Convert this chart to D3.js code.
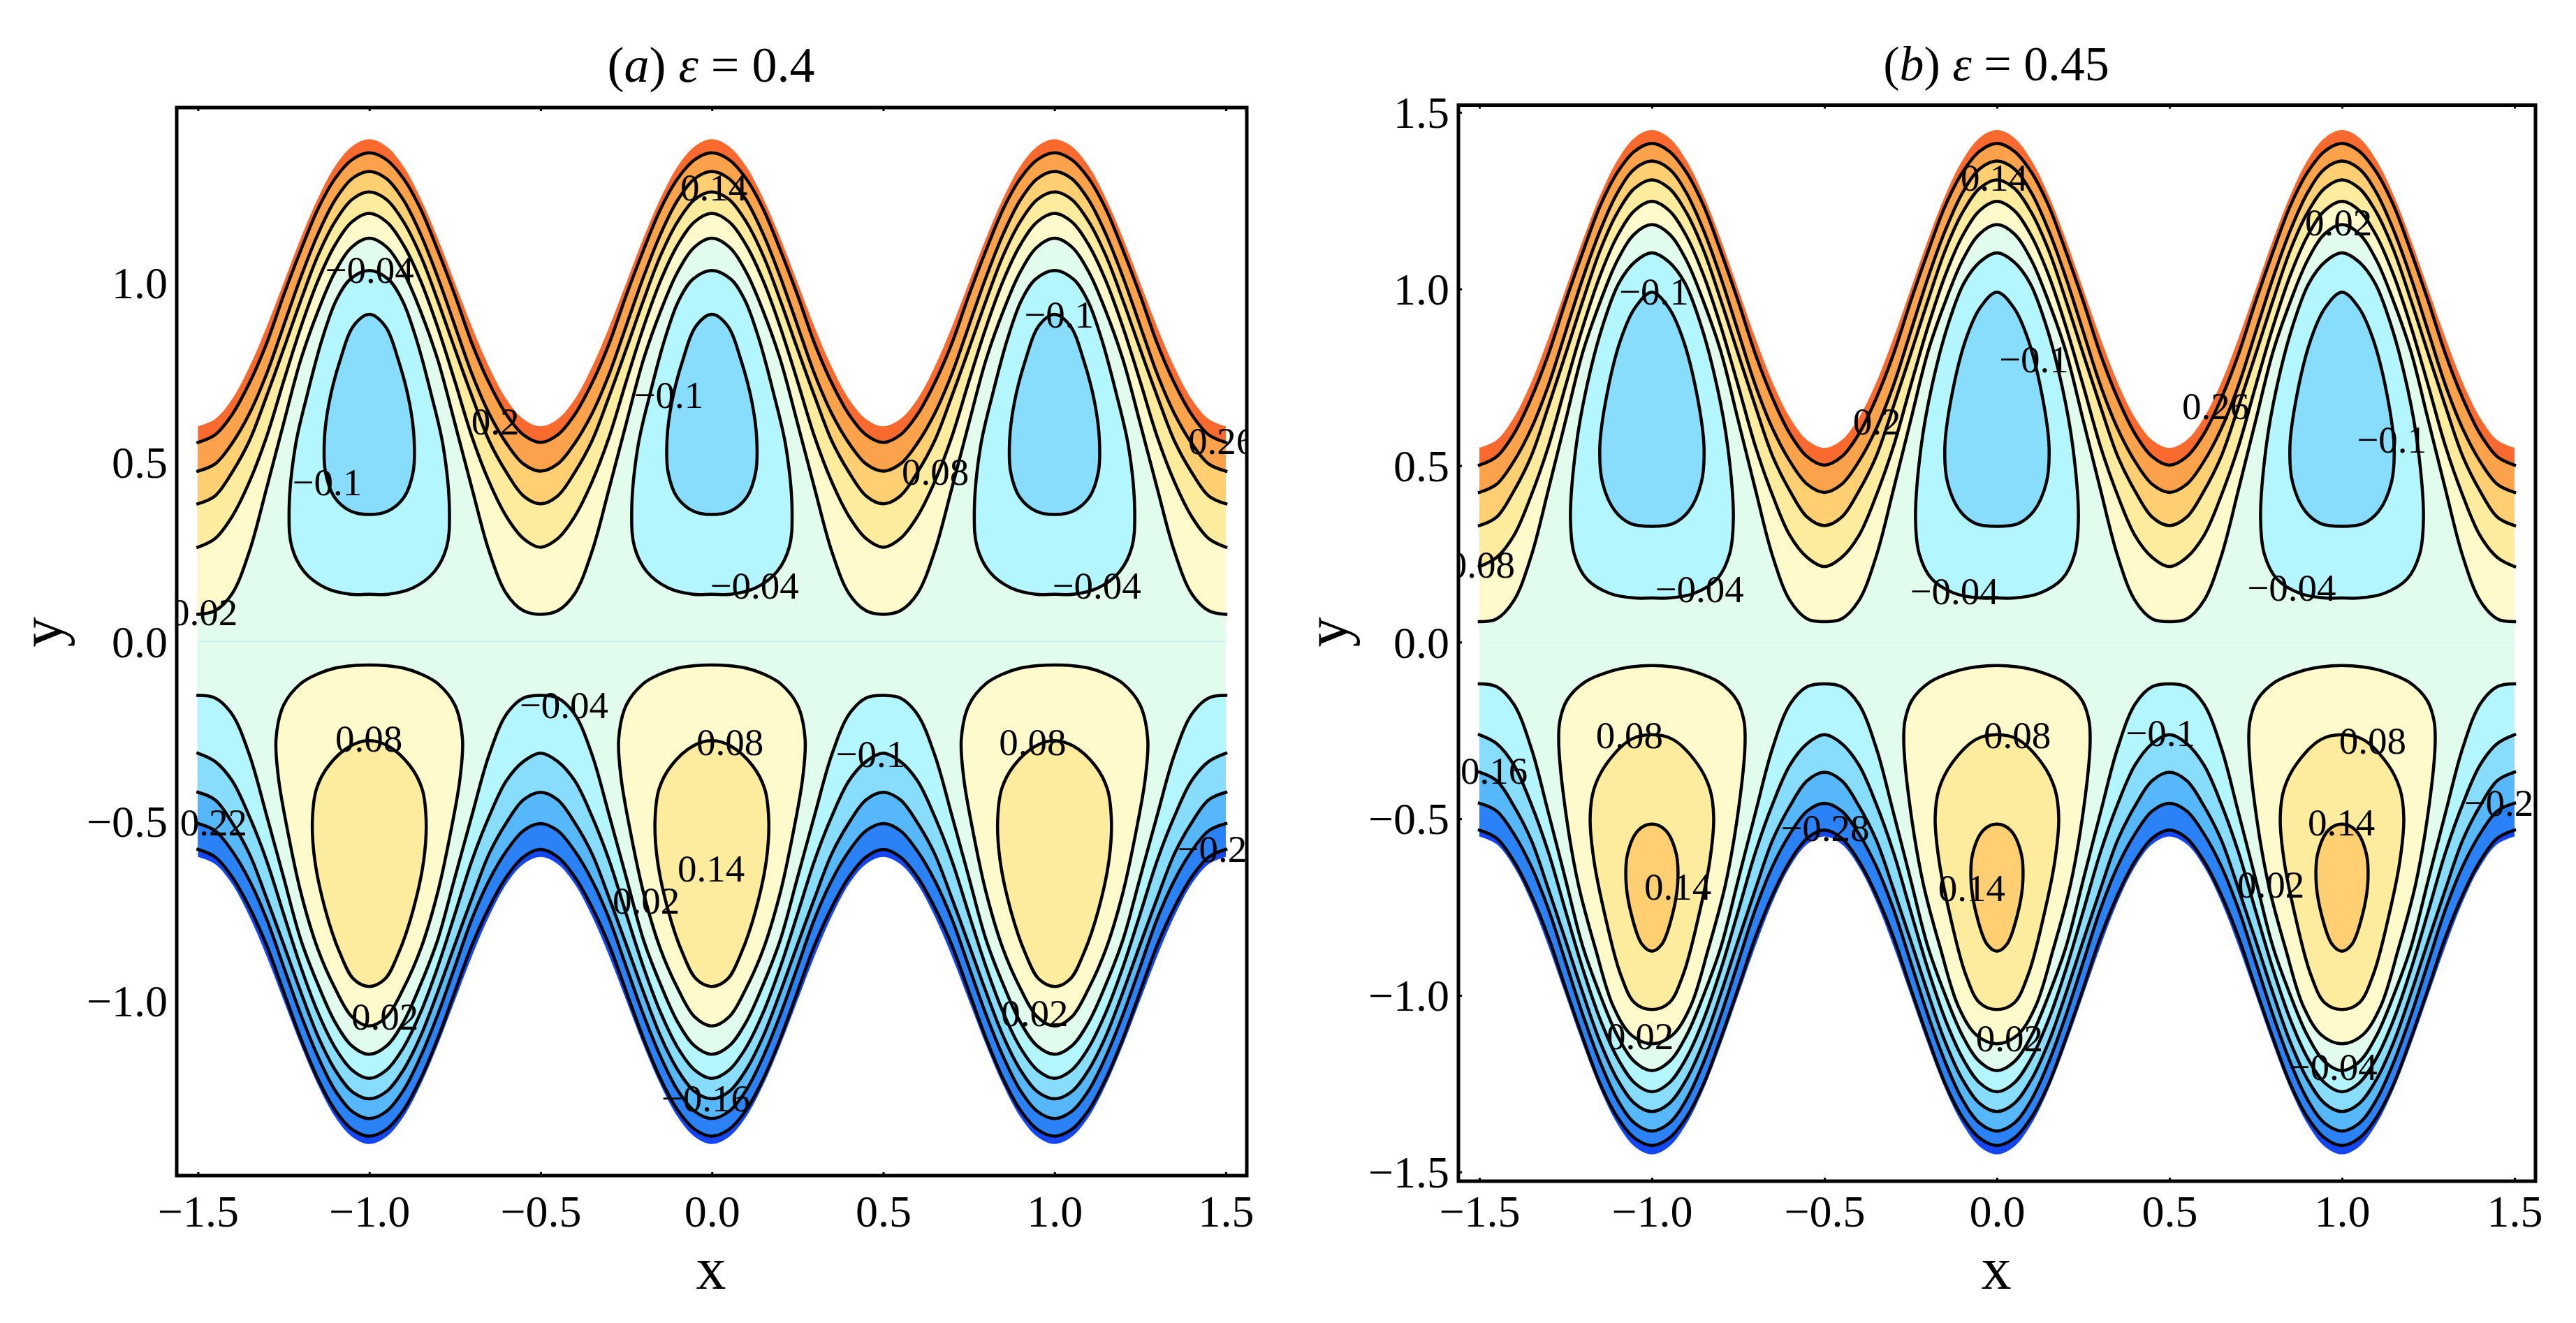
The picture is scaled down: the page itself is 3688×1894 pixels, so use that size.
<!DOCTYPE html>
<html><head><meta charset="utf-8">
<script src="https://cdn.jsdelivr.net/npm/d3@7"></script>
<style>html,body{margin:0;padding:0;background:#fff}svg{display:block}text{font-family:"Liberation Serif",serif;fill:#000}</style>
</head><body><svg id="c" width="3688" height="1894"></svg>
<script>
// ---------- shared categories ----------
const periodCentres = [-1, 0, 1];
const dxGrid = [0, .05, .1, .15, .2, .25, .3, .35, .4, .45, .5];
const xTicks = [-1.5, -1, -.5, 0, .5, 1, 1.5];
const yTicksA = [-1, -.5, 0, .5, 1];
const yTicksB = [-1.5, -1, -.5, 0, .5, 1, 1.5];

// ---------- panel (a): y of each wavy contour vs distance from period centre ----------
const aTopWall = [1.40,1.38,1.324,1.235,1.124,1.0,.876,.765,.676,.62,.60];
const aTop1 = [1.362,1.343,1.29,1.205,1.09,.965,.83,.72,.633,.576,.555];
const aTop2 = [1.31,1.29,1.23,1.135,1.015,.88,.745,.635,.553,.495,.475];
const aTop3 = [1.253,1.232,1.17,1.075,.95,.815,.683,.559,.472,.406,.384];
const aTop4 = [1.193,1.17,1.105,1.005,.875,.725,.57,.445,.349,.287,.263];
const aTop5 = [1.124,1.10,1.03,.92,.785,.608,.426,.251,.134,.086,.076];
const aBot5 = [-1.15,-1.127,-1.06,-.955,-.83,-.657,-.483,-.315,-.203,-.157,-.15];
const aBot4 = [-1.217,-1.194,-1.131,-1.033,-.906,-.759,-.609,-.487,-.388,-.334,-.311];
const aBot3 = [-1.274,-1.254,-1.193,-1.099,-.976,-.844,-.714,-.591,-.505,-.441,-.42];
const aBot2 = [-1.329,-1.309,-1.25,-1.156,-1.039,-.906,-.772,-.665,-.584,-.527,-.507];
const aBot1 = [-1.378,-1.359,-1.305,-1.218,-1.105,-.975,-.845,-.74,-.656,-.6,-.579];
const aBotWall = [-1.40,-1.38,-1.324,-1.235,-1.124,-1.0,-.876,-.765,-.676,-.62,-.60];
// closed cells: half-width, y
const aCellU1 = [[0,1.034],[.055,1.01],[.097,.95],[.138,.841],[.18,.692],[.216,.543],[.234,.364],[.226,.264],[.19,.195],[.128,.15],[.055,.132],[0,.132]];
const aCellU2 = [[0,.912],[.045,.881],[.086,.781],[.118,.662],[.131,.562],[.128,.473],[.102,.403],[.055,.364],[0,.354]];
const aCellL1 = [[0,-.065],[.05,-.067],[.1,-.074],[.15,-.09],[.2,-.117],[.25,-.177],[.272,-.271],[.265,-.38],[.24,-.519],[.2,-.698],[.15,-.857],[.1,-.966],[.05,-1.046],[0,-1.071]];
const aCellL2 = [[0,-.276],[.055,-.291],[.118,-.345],[.154,-.41],[.166,-.499],[.159,-.609],[.128,-.748],[.086,-.867],[.045,-.941],[0,-.961]];
const aLabels = [["−0.04",-.999,1.034],["0.2",-.632,.613],["−0.1",-1.123,.444],["−0.1",-.126,.687],["0.02",-1.482,.082],["0.14",.006,1.264],["−0.04",.124,.156],["−0.04",1.123,.156],["0.08",.652,.473],["−0.1",1.013,.911],["0.26",1.488,.557],["0.22",-1.454,-.504],["0.08",-1.001,-.271],["0.02",-.954,-1.046],["−0.04",-.432,-.177],["0.08",.053,-.28],["0.14",-.002,-.633],["0.02",-.192,-.722],["−0.16",-.018,-1.273],["−0.1",.463,-.315],["0.08",.936,-.28],["0.02",.942,-1.036],["−0.22",1.488,-.578]];

// ---------- panel (b) ----------
const bTopWall = [1.45,1.428,1.364,1.265,1.139,1.0,.861,.735,.636,.572,.55];
const bTop1 = [1.412,1.39,1.33,1.235,1.105,.965,.815,.69,.59,.525,.501];
const bTop2 = [1.362,1.34,1.272,1.165,1.031,.879,.727,.604,.512,.447,.424];
const bTop3 = [1.309,1.285,1.216,1.109,.967,.816,.667,.526,.428,.354,.33];
const bTop4 = [1.248,1.222,1.15,1.038,.893,.726,.554,.415,.302,.24,.214];
const bTop5 = [1.182,1.156,1.081,.963,.822,.628,.432,.243,.118,.066,.058];
const bBot5 = [-1.213,-1.188,-1.114,-.999,-.863,-.673,-.483,-.299,-.176,-.126,-.118];
const bBot4 = [-1.273,-1.248,-1.177,-1.068,-.926,-.762,-.595,-.458,-.348,-.287,-.262];
const bBot3 = [-1.329,-1.306,-1.238,-1.132,-.994,-.845,-.699,-.56,-.464,-.392,-.368];
const bBot2 = [-1.384,-1.362,-1.295,-1.189,-1.056,-.906,-.756,-.634,-.543,-.478,-.456];
const bBot1 = [-1.425,-1.404,-1.345,-1.25,-1.12,-.98,-.835,-.715,-.62,-.555,-.532];
const bBotWall = [-1.45,-1.428,-1.364,-1.265,-1.139,-1.0,-.861,-.735,-.636,-.572,-.55];
const bCellU1 = [[0,1.102],[.05,1.076],[.096,1.016],[.143,.895],[.189,.723],[.22,.552],[.236,.35],[.225,.249],[.189,.179],[.122,.138],[.05,.125],[0,.125]];
const bCellU2 = [[0,.991],[.05,.945],[.091,.855],[.132,.693],[.151,.552],[.143,.451],[.106,.37],[.06,.335],[0,.328]];
const bCellL1 = [[0,-.066],[.06,-.07],[.122,-.083],[.194,-.113],[.246,-.164],[.267,-.224],[.27,-.285],[.256,-.436],[.215,-.678],[.163,-.87],[.112,-1.031],[.06,-1.112],[0,-1.137]];
const bCellL2 = [[0,-.262],[.06,-.275],[.132,-.345],[.168,-.416],[.179,-.497],[.168,-.618],[.137,-.769],[.091,-.94],[.05,-1.021],[0,-1.04]];
const bCellL3 = [[0,-.515],[.039,-.532],[.07,-.597],[.075,-.678],[.06,-.769],[.029,-.855],[0,-.875]];
const bLabels = [["−0.1",-.994,.991],["−0.04",-.862,.149],["−0.04",-.123,.143],["0.2",-.348,.624],["0.14",-.008,1.314],["0.08",-1.494,.218],["−0.1",.107,.8],["0.26",.634,.667],["0.02",.99,1.187],["−0.1",1.144,.572],["−0.04",.854,.153],["0.08",-1.065,-.264],["0.16",-1.457,-.365],["−0.28",-.498,-.527],["0.14",-.925,-.693],["0.14",-.073,-.697],["0.02",-1.034,-1.117],["0.08",.059,-.264],["0.02",.036,-1.122],["−0.1",.474,-.258],["0.08",1.089,-.28],["0.14",.998,-.512],["0.02",.794,-.687],["−0.04",.974,-1.203],["−0.22",1.482,-.456]];

// ---------- colours (from outer wall inward) ----------
const topColours = ["#FA692E","#FCA24B","#FFCF72","#FEEC9E","#FFFACB","#E1FCEC"];
const botColours = ["#1446F2","#2A82F6","#56B7F9","#88DDFC","#B3F6FE","#E1FCEC"];
const cellUColours = ["#B3F6FE","#88DDFC"];
const cellLColours = ["#FFFACB","#FEEC9E","#FFCF72"];

const svg = d3.select("#c");

function wave(profile){
  const pts = [];
  periodCentres.forEach((c,k) => {
    for (let i = dxGrid.length-1; i > 0; i--) pts.push([c-dxGrid[i], profile[i]]);
    pts.push([c, profile[0]]);
    const last = k === periodCentres.length-1 ? dxGrid.length : dxGrid.length-1;
    for (let i = 1; i < last; i++) pts.push([c+dxGrid[i], profile[i]]);
  });
  return pts;
}
function cell(half, c){
  const r = half.map(d => [c+d[0], d[1]]);
  const l = half.slice(1,-1).reverse().map(d => [c-d[0], d[1]]);
  return r.concat(l);
}

function panel(o){
  const x = d3.scaleLinear().domain([-1.5,1.5]).range(o.xr);
  const y = d3.scaleLinear().domain([-o.yMax,o.yMax]).range(o.yr);
  const g = svg.append("g");
  const line = d3.line().x(d=>x(d[0])).y(d=>y(d[1])).curve(d3.curveCatmullRom.alpha(.5));
  const area = d3.area().x(d=>x(d[0])).y1(d=>y(d[1])).curve(d3.curveCatmullRom.alpha(.5));
  const closed = d3.line().x(d=>x(d[0])).y(d=>y(d[1])).curve(d3.curveCatmullRomClosed.alpha(.5));

  // top bands overlap slightly past the mid-line so no seam shows under the lower bands
  o.top.forEach((p,i) => g.append("path").attr("d",area.y0(y(-.02))(wave(p))).attr("fill",topColours[i]));
  o.bot.forEach((p,i) => g.append("path").attr("d",area.y0(y(0))(wave(p))).attr("fill",botColours[i]));
  const drawCells = (cells,cols) => cells.forEach((h,i) => periodCentres.forEach(c =>
    g.append("path").attr("d",closed(cell(h,c))).attr("fill",cols[i]).attr("stroke","#000").attr("stroke-width",4.5)));
  drawCells(o.cellsU,cellUColours);
  drawCells(o.cellsL,cellLColours);
  [...o.top.slice(1),...o.bot.slice(1)].forEach(p =>
    g.append("path").attr("d",line(wave(p))).attr("fill","none").attr("stroke","#000").attr("stroke-width",4.5).attr("stroke-linecap","square"));

  const fx0=o.frame[0], fy0=o.frame[1], fx1=o.frame[2], fy1=o.frame[3];
  svg.append("clipPath").attr("id",o.id).append("rect").attr("x",fx0).attr("y",fy0).attr("width",fx1-fx0).attr("height",fy1-fy0);
  const lab = svg.append("g").attr("clip-path",`url(#${o.id})`);
  o.labels.forEach(d => lab.append("text").attr("x",x(d[1])).attr("y",y(d[2])).attr("dy",".33em")
    .attr("text-anchor","middle").attr("font-size",55).text(d[0]));

  const fmt = d3.format(".1f");
  const axB = svg.append("g").attr("transform",`translate(0,${fy1})`)
    .call(d3.axisBottom(x).tickValues(xTicks).tickFormat(fmt).tickSizeOuter(0).tickSizeInner(-5));
  axB.selectAll("text").attr("y",1756-fy1).attr("dy",0).attr("font-size",64);
  const axT = svg.append("g").attr("transform",`translate(0,${fy0})`)
    .call(d3.axisTop(x).tickValues(xTicks).tickFormat("").tickSizeOuter(0).tickSizeInner(-5));
  const axL = svg.append("g").attr("transform",`translate(${fx0},0)`)
    .call(d3.axisLeft(y).tickValues(o.yTicks).tickFormat(fmt).tickSizeOuter(0).tickSizeInner(o.yTickLen));
  axL.selectAll("text").attr("x",-13).attr("dy",".34em").attr("font-size",64).attr("text-anchor","end");
  [axB,axT,axL].forEach(a => {
    a.select(".domain").remove();
    a.selectAll("line").attr("stroke","#000").attr("stroke-width",3);
    a.selectAll("text").attr("font-family",'"Liberation Serif",serif').attr("fill","#000");
  });
  svg.append("rect").attr("x",fx0).attr("y",fy0).attr("width",fx1-fx0).attr("height",fy1-fy0)
    .attr("fill","none").attr("stroke","#000").attr("stroke-width",5);

  const t = svg.append("text").attr("x",o.titleX).attr("y",o.titleY).attr("text-anchor","middle").attr("font-size",o.titleSize);
  t.append("tspan").text("(");
  t.append("tspan").attr("font-style","italic").text(o.tag);
  t.append("tspan").text(") ");
  t.append("tspan").attr("font-style","italic").text("ε");
  t.append("tspan").text(" = "+o.eps);
  svg.append("text").attr("x",o.titleX).attr("y",1845).attr("text-anchor","middle").attr("font-size",86).text("x");
  svg.append("text").attr("transform",`translate(${o.yLabX},905) rotate(-90)`).attr("text-anchor","middle").attr("font-size",86).text("y");
}

panel({id:"ca",xr:[283.4,1755],yMax:1.488,yr:[1683,154],frame:[253,154,1785,1683],
  top:[aTopWall,aTop1,aTop2,aTop3,aTop4,aTop5],bot:[aBotWall,aBot1,aBot2,aBot3,aBot4,aBot5],
  cellsU:[aCellU1,aCellU2],cellsL:[aCellL1,aCellL2],labels:aLabels,yTicks:yTicksA,yTickLen:0,
  tag:"a",eps:"0.4",titleX:1018,titleY:117,titleSize:72,yLabX:88});
panel({id:"cb",xr:[2118,3600],yMax:1.5,yr:[1677.8,160.8],frame:[2088,150.5,3630,1691],
  top:[bTopWall,bTop1,bTop2,bTop3,bTop4,bTop5],bot:[bBotWall,bBot1,bBot2,bBot3,bBot4,bBot5],
  cellsU:[bCellU1,bCellU2],cellsL:[bCellL1,bCellL2,bCellL3],labels:bLabels,yTicks:yTicksB,yTickLen:-5,
  tag:"b",eps:"0.45",titleX:2858,titleY:115,titleSize:70,yLabX:1928});
</script></body></html>
